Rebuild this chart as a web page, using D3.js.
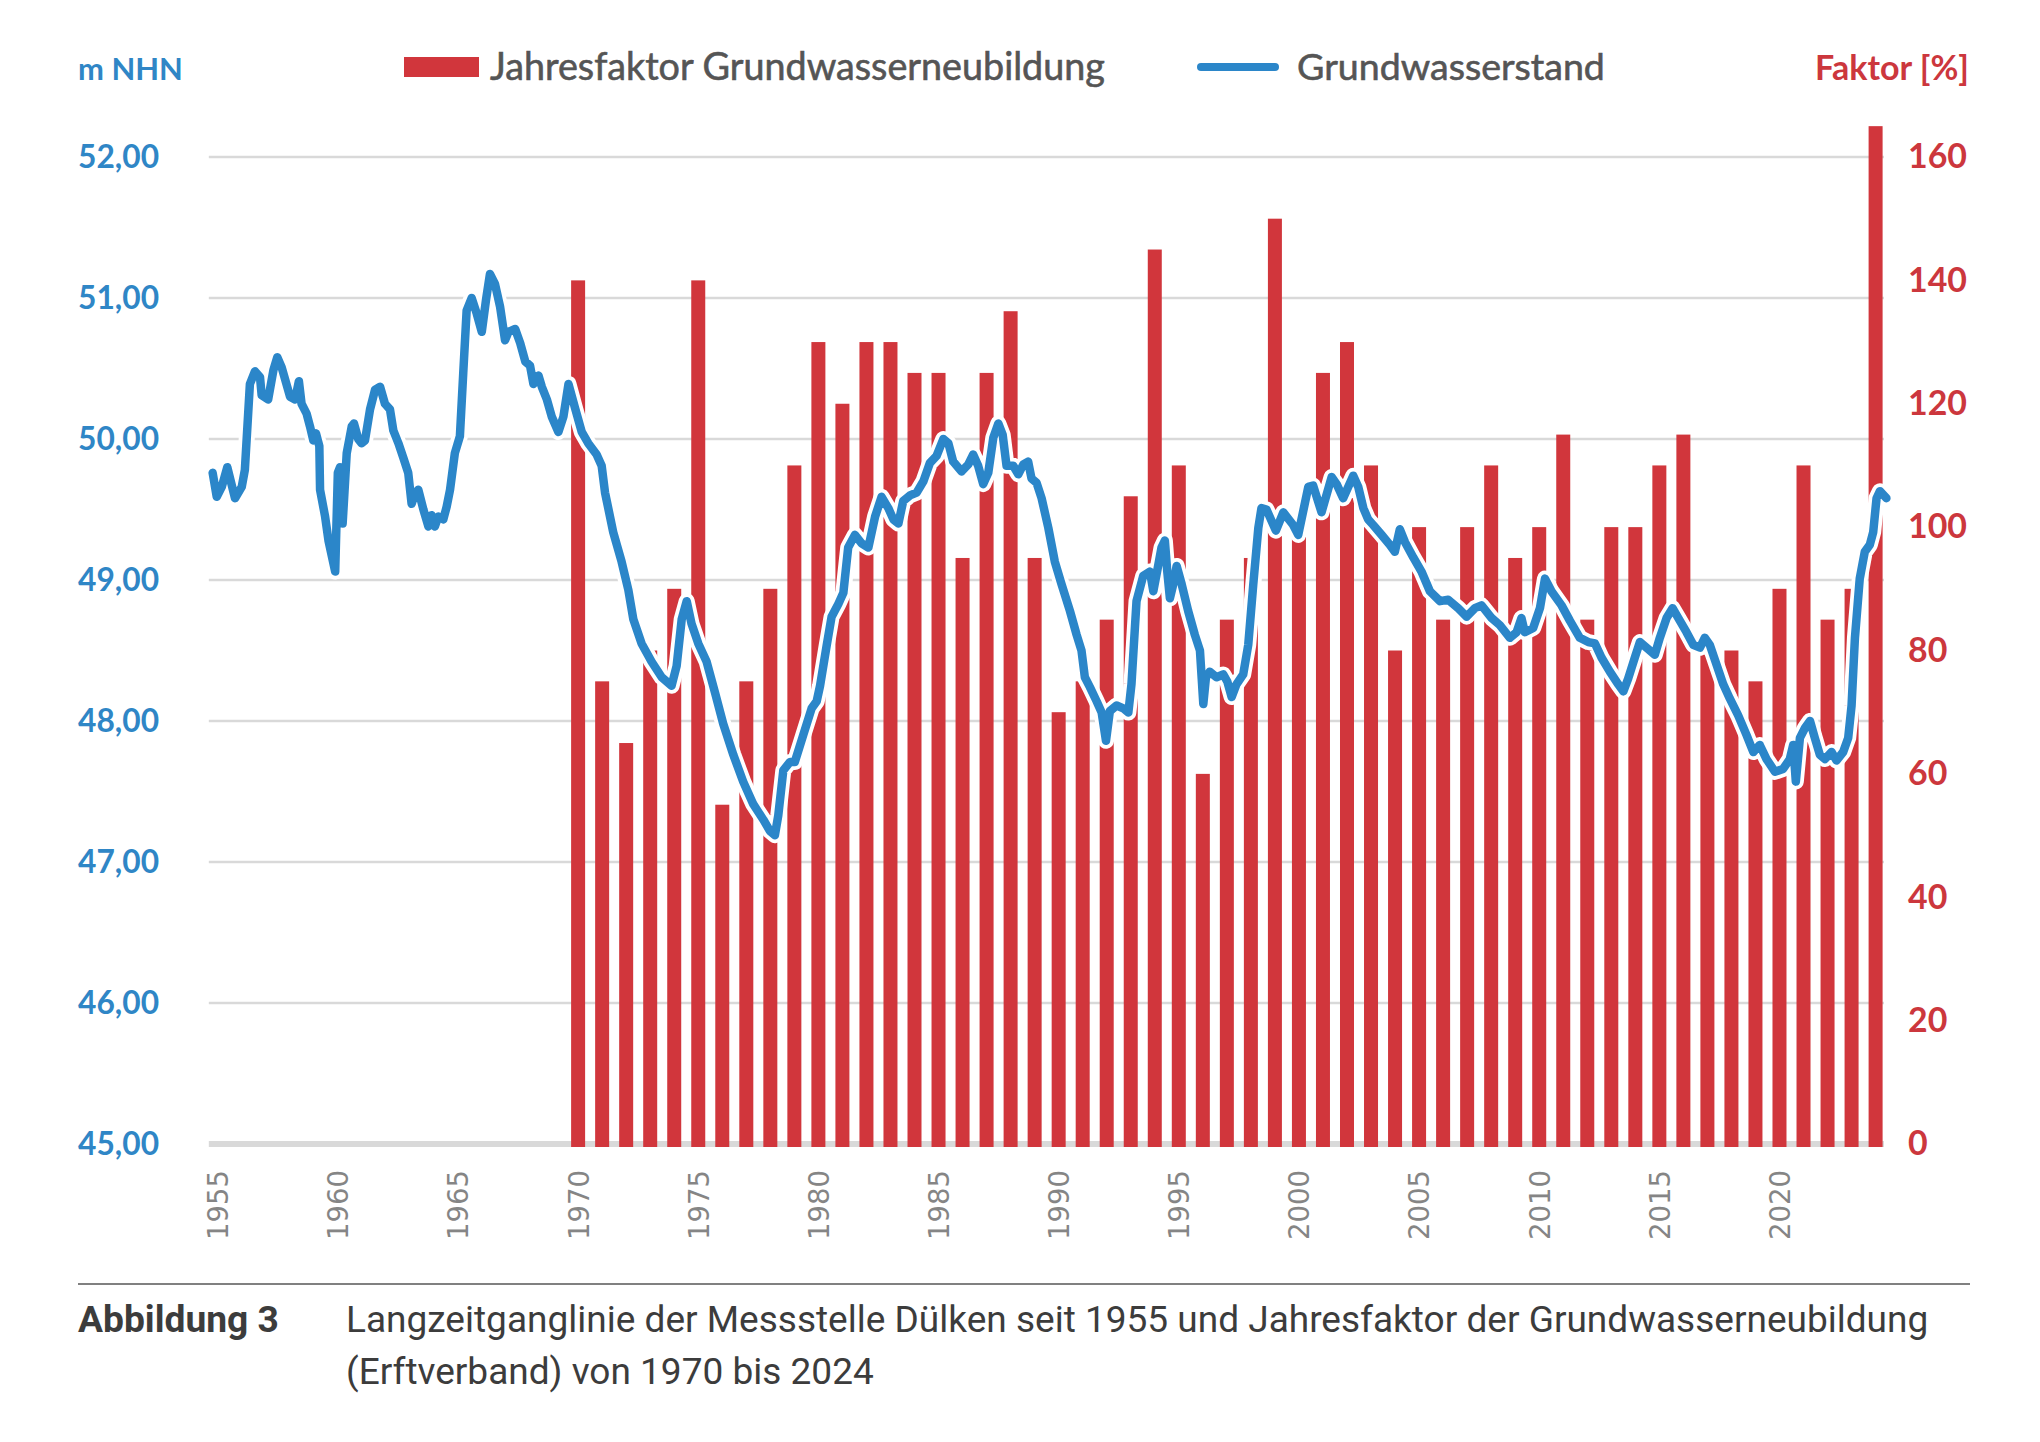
<!DOCTYPE html>
<html>
<head>
<meta charset="utf-8">
<script src="https://cdn.jsdelivr.net/npm/d3@7"></script>
<style>
  html, body { margin: 0; padding: 0; background: #fff; }
  svg { display: block; }
</style>
</head>
<body>
<div id="chart"></div>
<script>
const W = 2040, H = 1442;
const C_BAR   = '#d1363c';
const C_LINE  = '#2b86c9';
const C_GRID  = '#d9d9d9';
const C_BLUE  = '#2f86c6';
const C_RED   = '#cc373d';
const C_GRAY  = '#595959';

// Jahresfaktor Grundwasserneubildung [%], 1970-2024
const barYears = d3.range(1970, 2025);
const faktor = [
  140, 75, 65, 80, 90, 140, 55, 75, 90, 110,
  130, 120, 130, 130, 125, 125, 95, 125, 135, 95,
  70, 75, 85, 105, 145, 110, 60, 85, 95, 150,
  100, 125, 130, 110, 80, 100, 85, 100, 110, 95,
  100, 115, 85, 100, 100, 110, 115, 80, 80, 75,
  90, 110, 85, 90, 165
];

// Grundwasserstand [m NHN], [Jahr, Wert]
const stand = [
  [1954.79,49.76],[1954.96,49.59],[1955.17,49.66],[1955.40,49.80],[1955.72,49.58],[1956.00,49.66],
  [1956.13,49.78],[1956.34,50.39],[1956.55,50.48],[1956.76,50.44],[1956.83,50.31],[1957.10,50.28],
  [1957.32,50.49],[1957.48,50.58],[1957.66,50.51],[1958.01,50.30],[1958.22,50.28],[1958.38,50.41],
  [1958.49,50.25],[1958.70,50.18],[1958.84,50.09],[1958.98,49.99],[1959.09,50.04],[1959.23,49.95],
  [1959.26,49.64],[1959.47,49.45],[1959.61,49.28],[1959.89,49.06],[1960.00,49.76],[1960.09,49.80],
  [1960.20,49.40],[1960.37,49.90],[1960.58,50.09],[1960.67,50.11],[1960.85,50.00],[1960.99,49.97],
  [1961.13,49.99],[1961.34,50.21],[1961.55,50.35],[1961.76,50.37],[1961.96,50.25],[1962.17,50.21],
  [1962.31,50.06],[1962.52,49.97],[1962.72,49.87],[1962.93,49.76],[1963.07,49.54],[1963.21,49.61],
  [1963.35,49.64],[1963.56,49.50],[1963.77,49.38],[1963.90,49.46],[1964.04,49.38],[1964.18,49.45],
  [1964.39,49.43],[1964.53,49.52],[1964.67,49.64],[1964.87,49.90],[1965.08,50.02],[1965.22,50.47],
  [1965.36,50.91],[1965.57,51.00],[1965.78,50.89],[1965.99,50.76],[1966.17,50.99],[1966.33,51.17],
  [1966.54,51.10],[1966.75,50.94],[1966.96,50.70],[1967.10,50.76],[1967.38,50.78],[1967.59,50.68],
  [1967.80,50.55],[1968.00,50.52],[1968.14,50.39],[1968.35,50.45],[1968.49,50.37],[1968.70,50.28],
  [1968.90,50.16],[1969.18,50.05],[1969.39,50.16],[1969.60,50.39],[1969.87,50.22],[1970.15,50.05],
  [1970.42,49.97],[1970.77,49.89],[1970.98,49.81],[1971.12,49.62],[1971.46,49.34],[1971.81,49.13],
  [1972.09,48.93],[1972.30,48.72],[1972.64,48.55],[1973.06,48.42],[1973.48,48.31],[1973.89,48.25],
  [1974.10,48.39],[1974.31,48.72],[1974.52,48.85],[1974.72,48.69],[1975.00,48.55],[1975.35,48.42],
  [1975.70,48.20],[1976.04,47.98],[1976.46,47.76],[1976.87,47.57],[1977.29,47.41],[1977.71,47.30],
  [1977.98,47.22],[1978.19,47.19],[1978.33,47.33],[1978.54,47.65],[1978.82,47.71],[1979.02,47.71],
  [1979.37,47.90],[1979.72,48.09],[1979.93,48.14],[1980.07,48.25],[1980.34,48.53],[1980.55,48.74],
  [1980.83,48.83],[1981.04,48.91],[1981.24,49.23],[1981.52,49.32],[1981.80,49.26],[1982.08,49.23],
  [1982.36,49.45],[1982.63,49.59],[1982.91,49.51],[1983.12,49.43],[1983.33,49.40],[1983.53,49.56],
  [1983.81,49.60],[1984.09,49.62],[1984.37,49.70],[1984.64,49.83],[1984.92,49.88],[1985.20,50.00],
  [1985.41,49.97],[1985.61,49.84],[1985.96,49.77],[1986.24,49.82],[1986.44,49.89],[1986.65,49.81],
  [1986.86,49.68],[1987.07,49.76],[1987.28,50.01],[1987.49,50.11],[1987.67,50.03],[1987.83,49.81],
  [1988.11,49.81],[1988.32,49.75],[1988.53,49.82],[1988.73,49.84],[1988.87,49.72],[1989.08,49.69],
  [1989.29,49.58],[1989.57,49.37],[1989.84,49.13],[1990.12,48.97],[1990.47,48.78],[1990.75,48.61],
  [1990.95,48.50],[1991.09,48.31],[1991.30,48.24],[1991.58,48.14],[1991.79,48.06],[1991.97,47.86],
  [1992.13,48.07],[1992.41,48.11],[1992.69,48.09],[1992.90,48.06],[1993.03,48.26],[1993.24,48.85],
  [1993.52,49.03],[1993.80,49.06],[1993.94,48.92],[1994.14,49.10],[1994.28,49.23],[1994.42,49.28],
  [1994.52,49.06],[1994.63,48.87],[1994.77,48.97],[1994.91,49.10],[1995.12,48.97],[1995.39,48.78],
  [1995.67,48.61],[1995.88,48.50],[1996.02,48.12],[1996.13,48.31],[1996.29,48.35],[1996.57,48.31],
  [1996.85,48.33],[1997.02,48.28],[1997.20,48.17],[1997.40,48.26],[1997.68,48.33],[1997.89,48.54],
  [1998.10,48.97],[1998.31,49.37],[1998.44,49.51],[1998.65,49.50],[1999.04,49.35],[1999.35,49.48],
  [1999.76,49.39],[1999.97,49.32],[2000.39,49.66],[2000.59,49.67],[2000.94,49.48],[2001.36,49.73],
  [2001.57,49.68],[2001.84,49.58],[2002.26,49.74],[2002.47,49.66],[2002.68,49.51],[2002.88,49.43],
  [2003.09,49.39],[2003.44,49.32],[2003.78,49.25],[2003.99,49.20],[2004.20,49.36],[2004.41,49.27],
  [2004.76,49.16],[2005.10,49.06],[2005.45,48.92],[2005.87,48.85],[2006.21,48.86],[2006.63,48.80],
  [2006.98,48.74],[2007.32,48.80],[2007.60,48.82],[2008.02,48.73],[2008.36,48.68],[2008.78,48.59],
  [2009.06,48.63],[2009.26,48.73],[2009.40,48.63],[2009.75,48.66],[2010.03,48.80],[2010.24,49.01],
  [2010.51,48.92],[2010.93,48.82],[2011.28,48.71],[2011.69,48.59],[2012.04,48.56],[2012.32,48.55],
  [2012.59,48.45],[2012.94,48.35],[2013.29,48.26],[2013.50,48.21],[2013.70,48.30],[2013.98,48.45],
  [2014.19,48.56],[2014.47,48.52],[2014.81,48.47],[2015.02,48.59],[2015.30,48.73],[2015.55,48.80],
  [2015.79,48.73],[2016.13,48.63],[2016.41,48.54],[2016.69,48.52],[2016.89,48.59],[2017.10,48.54],
  [2017.38,48.40],[2017.66,48.26],[2017.93,48.16],[2018.28,48.04],[2018.63,47.90],[2018.91,47.78],
  [2019.18,47.83],[2019.46,47.73],[2019.81,47.64],[2020.15,47.66],[2020.43,47.73],[2020.57,47.83],
  [2020.68,47.57],[2020.85,47.88],[2021.06,47.95],[2021.27,48.00],[2021.47,47.88],[2021.68,47.76],
  [2021.89,47.73],[2022.17,47.78],[2022.37,47.72],[2022.65,47.78],[2022.86,47.88],[2023.00,48.11],
  [2023.14,48.59],[2023.34,49.01],[2023.55,49.20],[2023.76,49.25],[2023.90,49.34],[2024.04,49.58],
  [2024.18,49.63],[2024.45,49.58]
];

const leftTicks  = [45, 46, 47, 48, 49, 50, 51, 52];
const rightTicks = [0, 20, 40, 60, 80, 100, 120, 140, 160];
const xTicks     = [1955, 1960, 1965, 1970, 1975, 1980, 1985, 1990, 1995, 2000, 2005, 2010, 2015, 2020];

const legendItems = ['Jahresfaktor Grundwasserneubildung', 'Grundwasserstand'];
const captionLines = [
  'Langzeitganglinie der Messstelle Dülken seit 1955 und Jahresfaktor der Grundwasserneubildung',
  '(Erftverband) von 1970 bis 2024'
];

// scale a text's font so it spans the given width
function fitWidth(sel, target) {
  const fs = parseFloat(sel.style('font-size'));
  const w = sel.node().getComputedTextLength();
  const nfs = fs * target / w;
  sel.style('font-size', nfs + 'px');
  return nfs;
}

const svg = d3.select('#chart').append('svg')
  .attr('width', W).attr('height', H);

const x  = d3.scaleLinear().domain([1955, 2024]).range([217.7, 1875.6]);
const yL = d3.scaleLinear().domain([45, 52]).range([1144, 157]);
const yR = d3.scaleLinear().domain([0, 160]).range([1144, 157]);

const xLeft = x(1954.63), xRight = x(2024.35);

// gridlines
svg.append('g').selectAll('line').data(leftTicks.slice(1)).enter().append('line')
  .attr('x1', xLeft).attr('x2', xRight)
  .attr('y1', d => yL(d)).attr('y2', d => yL(d))
  .attr('stroke', C_GRID).attr('stroke-width', 2.6);

// base line
svg.append('line')
  .attr('x1', xLeft).attr('x2', xRight)
  .attr('y1', yL(45)).attr('y2', yL(45))
  .attr('stroke', C_GRID).attr('stroke-width', 6);

// bars
const barW = 14;
svg.append('g').selectAll('rect').data(barYears).enter().append('rect')
  .attr('x', d => x(d) - barW / 2)
  .attr('width', barW)
  .attr('y', (d, i) => yR(faktor[i]))
  .attr('height', (d, i) => yR(0) - yR(faktor[i]) + 3)
  .attr('fill', C_BAR);

// groundwater line with white casing
const line = d3.line().x(d => x(d[0])).y(d => yL(d[1])).curve(d3.curveLinear);
svg.append('path').datum(stand).attr('d', line)
  .attr('fill', 'none').attr('stroke', '#fff').attr('stroke-width', 16)
  .attr('stroke-linejoin', 'round').attr('stroke-linecap', 'round');
svg.append('path').datum(stand).attr('d', line)
  .attr('fill', 'none').attr('stroke', C_LINE).attr('stroke-width', 8.5)
  .attr('stroke-linejoin', 'round').attr('stroke-linecap', 'round');

// left axis
const fmtL = d => d3.format('.2f')(d).replace('.', ',');
const gL = svg.append('g').attr('transform', `translate(${xLeft},0)`)
  .call(d3.axisLeft(yL).tickValues(leftTicks).tickFormat(fmtL).tickSize(0).tickPadding(xLeft - 159));
gL.select('.domain').remove();
gL.selectAll('text')
  .attr('fill', C_BLUE).style('font-family', 'Lato, sans-serif')
  .style('font-weight', 700).style('font-size', '29px');
const fsL = fitWidth(gL.select('.tick:last-of-type text'), 81);
gL.selectAll('text').style('font-size', fsL + 'px');

// right axis
const gR = svg.append('g').attr('transform', `translate(${xRight},0)`)
  .call(d3.axisRight(yR).tickValues(rightTicks).tickSize(0).tickPadding(1908 - xRight));
gR.select('.domain').remove();
gR.selectAll('text')
  .attr('fill', C_RED).style('font-family', 'Lato, sans-serif')
  .style('font-weight', 700).style('font-size', '29px');
const fsR = fitWidth(gR.select('.tick:last-of-type text'), 59);
gR.selectAll('text').style('font-size', fsR + 'px');

// bottom axis
const gB = svg.append('g').attr('transform', `translate(0,${yL(45)})`)
  .call(d3.axisBottom(x).tickValues(xTicks).tickFormat(d3.format('d')).tickSize(0));
gB.select('.domain').remove();
gB.selectAll('text')
  .attr('fill', '#858585').style('font-family', '"DejaVu Sans", sans-serif')
  .style('font-size', '26px')
  .attr('text-anchor', 'end')
  .attr('transform', 'rotate(-90)')
  .attr('x', -(1170 - yL(45))).attr('y', 0).attr('dy', '0.36em');
const fsB = fitWidth(gB.select('.tick text'), 70);
gB.selectAll('text').style('font-size', fsB + 'px');

// axis titles
const tL = svg.append('text').attr('x', 78).attr('y', 80)
  .attr('fill', C_BLUE).style('font-family', 'Lato, sans-serif')
  .style('font-weight', 700).style('font-size', '30px').text('m NHN');
fitWidth(tL, 105);
const tR = svg.append('text').attr('x', 1969).attr('y', 80).attr('text-anchor', 'end')
  .attr('fill', C_RED).style('font-family', 'Lato, sans-serif')
  .style('font-weight', 700).style('font-size', '30px').text('Faktor [%]');
fitWidth(tR, 154);

// legend
const leg = svg.append('g');
leg.append('rect').attr('x', 404).attr('y', 57).attr('width', 75).attr('height', 20).attr('fill', C_BAR);
const lt1 = leg.append('text').attr('x', 490).attr('y', 80)
  .attr('fill', '#555555').style('font-family', 'Lato, sans-serif').style('font-size', '34px')
  .style('stroke', '#555555').style('stroke-width', 0.6)
  .text(legendItems[0]);
fitWidth(lt1, 615);
leg.append('line').attr('x1', 1201).attr('x2', 1275).attr('y1', 67).attr('y2', 67)
  .attr('stroke', C_LINE).attr('stroke-width', 8).attr('stroke-linecap', 'round');
const lt2 = leg.append('text').attr('x', 1297).attr('y', 80)
  .attr('fill', '#555555').style('font-family', 'Lato, sans-serif').style('font-size', '34px')
  .style('stroke', '#555555').style('stroke-width', 0.6)
  .text(legendItems[1]);
fitWidth(lt2, 308);

// caption
svg.append('line').attr('x1', 78).attr('x2', 1970).attr('y1', 1284).attr('y2', 1284)
  .attr('stroke', '#808080').attr('stroke-width', 2);
const cap0 = svg.append('text').attr('x', 78).attr('y', 1332)
  .attr('fill', '#3c3c3c').style('font-family', 'Roboto, sans-serif')
  .style('font-weight', 700).style('font-size', '33px').text('Abbildung 3');
fitWidth(cap0, 201);
const cap1 = svg.append('text').attr('x', 346).attr('y', 1332)
  .attr('fill', '#3c3c3c').style('font-family', 'Roboto, sans-serif')
  .style('font-size', '33px').text(captionLines[0]);
const fsC = fitWidth(cap1, 1583);
svg.append('text').attr('x', 346).attr('y', 1384)
  .attr('fill', '#3c3c3c').style('font-family', 'Roboto, sans-serif')
  .style('font-size', fsC + 'px').text(captionLines[1]);
</script>
</body>
</html>
